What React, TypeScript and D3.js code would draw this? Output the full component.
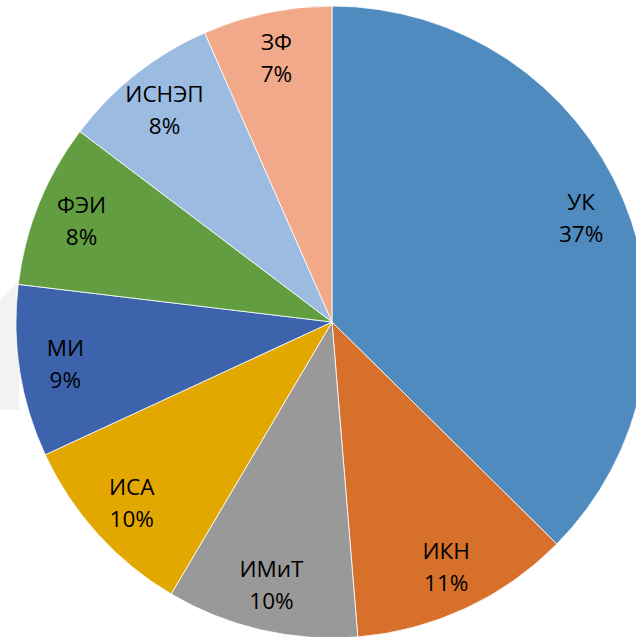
import React from "react";
import * as d3 from "d3";

const categories = ["УК", "ИКН", "ИМиТ", "ИСА", "МИ", "ФЭИ", "ИСНЭП", "ЗФ"];
const values = [37.4, 11.3, 9.8, 9.6, 8.8, 8.4, 8.1, 6.6];
const colors = ["#508bbf", "#d6702b", "#999999", "#e3a800", "#3c63ac", "#639d42", "#9cbbe0", "#f1a98a"];

const W = 636;
const H = 637;
const CX = 332;
const CY = 322;
const R = 316;
const LABEL_R = 270;

export default function App() {
  const data = categories.map((c, i) => ({ name: c, value: values[i], color: colors[i] }));
  const total = d3.sum(values);
  const pie = d3.pie<any>().value((d) => d.value).sort(null);
  const arcs = pie(data);
  const arc = d3.arc<any>().innerRadius(0).outerRadius(R);
  const labelArc = d3.arc<any>().innerRadius(LABEL_R).outerRadius(LABEL_R);
  const fmt = (v: number) => `${Math.round((v / total) * 100)}%`;

  return (
    <svg
      width={W}
      height={H}
      style={{ position: "absolute", left: 0, top: 0, background: "#ffffff" }}
    >
      <polygon points="0,300 19,281 19,410 0,410" fill="#f3f2f0" />
      <g transform={`translate(${CX},${CY})`}>
        {arcs.map((a, i) => (
          <path key={i} d={arc(a) as string} fill={a.data.color} stroke="#ffffff" strokeWidth={0.8} />
        ))}
        {arcs.map((a, i) => {
          const [x, y] = labelArc.centroid(a);
          return (
            <text
              key={"t" + i}
              x={x}
              y={y}
              textAnchor="middle"
              fontFamily="'Open Sans', sans-serif"
              fontSize={22.5}
              fill="#000000"
            >
              <tspan x={x} dy="-0.36em">{a.data.name}</tspan>
              <tspan x={x} dy="1.42em">{fmt(a.data.value)}</tspan>
            </text>
          );
        })}
      </g>
    </svg>
  );
}
